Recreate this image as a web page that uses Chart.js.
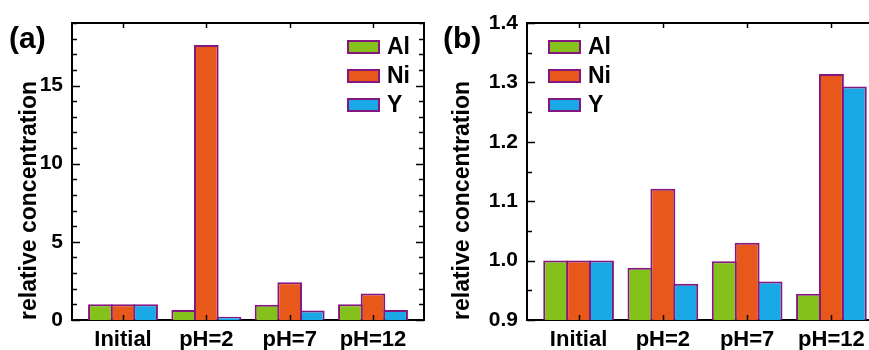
<!DOCTYPE html>
<html>
<head>
<meta charset="utf-8">
<script src="https://cdn.jsdelivr.net/npm/chart.js@4.4.1/dist/chart.umd.min.js"></script>
<style>
  html, body { margin: 0; padding: 0; background: #fff; overflow: hidden; }
  #wrap { position: relative; width: 869px; height: 350px; overflow: hidden; }
  #chartA { position: absolute; left: 0; top: 0; }
  #chartB { position: absolute; left: 435px; top: 0; }
</style>
</head>
<body>
<div id="wrap">
  <canvas id="chartA" width="435" height="350"></canvas>
  <canvas id="chartB" width="460" height="350"></canvas>
</div>
<script>
// data
const categories = ['Initial', 'pH=2', 'pH=7', 'pH=12'];
const elements = ['Al', 'Ni', 'Y'];

// panel (a)
const alA = [1.0, 0.64, 0.97, 1.0];
const niA = [1.0, 17.6, 2.41, 1.70];
const yA  = [1.0, 0.21, 0.60, 0.64];
const yTicksA = [0, 5, 10, 15];

// panel (b)
const alB = [1.0, 0.988, 0.999, 0.944];
const niB = [1.0, 1.121, 1.030, 1.314];
const yB  = [1.0, 0.961, 0.965, 1.293];
const yTicksB = [0.9, 1.0, 1.1, 1.2, 1.3, 1.4];

const fills = ['#84C11B', '#E8581A', '#19A9E6'];
const edge = '#85167F';
const fontFam = '"Liberation Sans", Arial, sans-serif';

// per-panel decoration settings, looked up by canvas id
const frames = {
  chartA: { right: true, minor: 1, major: yTicksA, legX: 348, legY: 47, legGap: 29, panel: '(a)', panelX: 9 },
  chartB: { right: true, minor: 0.05, major: yTicksB, legX: 114, legY: 47, legGap: 29, panel: '(b)', panelX: 8 }
};

const framePlugin = {
  id: 'frame',
  afterDraw(chart) {
    const f = frames[chart.canvas.id];
    const ctx = chart.ctx;
    const a = chart.chartArea;
    const x = chart.scales.x, y = chart.scales.y;
    ctx.save();
    ctx.strokeStyle = '#000';
    ctx.lineWidth = 2;
    ctx.beginPath();
    ctx.moveTo(a.left - 1, a.top);
    ctx.lineTo(a.right + 1, a.top);
    if (f.right) {
      ctx.moveTo(a.right, a.top);
      ctx.lineTo(a.right, a.bottom);
    }
    ctx.stroke();

    // inward ticks on the value axis
    ctx.lineWidth = 1.5;
    ctx.beginPath();
    const n = Math.round((y.max - y.min) / f.minor);
    for (let k = 0; k <= n; k++) {
      const v = y.min + k * f.minor;
      const isMajor = f.major.some(m => Math.abs(m - v) < 1e-6);
      const len = isMajor ? 8 : 5;
      const py = Math.round(y.getPixelForValue(v)) + 0.5;
      ctx.moveTo(a.left, py);
      ctx.lineTo(a.left + len, py);
      if (f.right) {
        ctx.moveTo(a.right, py);
        ctx.lineTo(a.right - len, py);
      }
    }
    // category ticks on bottom and top
    categories.forEach((c, i) => {
      const px = Math.round(x.getPixelForValue(i)) + 0.5;
      ctx.moveTo(px, a.bottom);
      ctx.lineTo(px, a.bottom - 5);
      ctx.moveTo(px, a.top);
      ctx.lineTo(px, a.top + 5);
    });
    ctx.stroke();

    // legend
    chart.data.datasets.forEach((ds, i) => {
      const cy = f.legY + i * f.legGap;
      ctx.fillStyle = ds.backgroundColor;
      ctx.fillRect(f.legX, cy - 6, 31, 12);
      ctx.strokeStyle = ds.borderColor;
      ctx.lineWidth = 2;
      ctx.strokeRect(f.legX, cy - 6, 31, 12);
      ctx.fillStyle = '#000';
      ctx.font = 'bold 23px ' + fontFam;
      ctx.textAlign = 'left';
      ctx.textBaseline = 'middle';
      ctx.fillText(ds.label, f.legX + 39, cy + 1);
    });

    // panel label
    ctx.font = 'bold 30px ' + fontFam;
    ctx.fillStyle = '#000';
    ctx.textAlign = 'left';
    ctx.textBaseline = 'middle';
    ctx.fillText(f.panel, f.panelX, 40);
    ctx.restore();
  }
};

function makeSets(series) {
  return series.map((vals, i) => ({
    label: elements[i],
    data: vals.map((v, j) => ({ x: j, y: v })),
    backgroundColor: fills[i],
    borderColor: edge,
    borderWidth: 2,
    categoryPercentage: 0.815,
    barPercentage: 1.088   // neighbours share one border line
  }));
}

function makeChart(id, series, yMin, yMax, yTicks, yWidth, titlePad, pad, fmt) {
  return new Chart(document.getElementById(id), {
    type: 'bar',
    data: { datasets: makeSets(series) },
    plugins: [framePlugin],
    options: {
      responsive: false,
      animation: false,
      layout: { padding: pad },
      plugins: {
        legend: { display: false },
        tooltip: { enabled: false }
      },
      scales: {
        x: {
          type: 'linear',
          min: -0.612,
          max: 3.612,
          offset: false,
          z: 1,
          grid: { display: false, drawTicks: false, offset: false },
          border: { display: true, color: '#000', width: 2 },
          afterBuildTicks: s => { s.ticks = categories.map((c, i) => ({ value: i })); },
          afterFit: s => { s.height = 30; },
          ticks: {
            autoSkip: false,
            maxRotation: 0,
            padding: 7,
            color: '#000',
            font: { family: fontFam, size: 22, weight: 'bold' },
            callback: v => categories[v]
          }
        },
        y: {
          min: yMin,
          max: yMax,
          z: 1,
          grid: { display: false, drawTicks: false },
          border: { display: true, color: '#000', width: 2 },
          afterBuildTicks: s => { s.ticks = yTicks.map(v => ({ value: v })); },
          afterFit: s => { s.width = yWidth; },
          ticks: {
            padding: 9,
            color: '#000',
            font: { family: fontFam, size: 21, weight: 'bold' },
            callback: fmt
          },
          title: {
            display: true,
            text: 'relative concentration',
            align: 'start',
            color: '#000',
            padding: { top: titlePad, bottom: 0 },
            font: { family: fontFam, size: 23, weight: 'bold' }
          }
        }
      }
    }
  });
}

makeChart('chartA', [alA, niA, yA], 0, 19, yTicksA, 72, 16,
  { left: 0, top: 23, right: 11, bottom: 0 }, v => String(v));

makeChart('chartB', [alB, niB, yB], 0.9, 1.4, yTicksB, 92, 14,
  { left: 0, top: 23, right: 12, bottom: 0 }, v => v.toFixed(1));
</script>
</body>
</html>
